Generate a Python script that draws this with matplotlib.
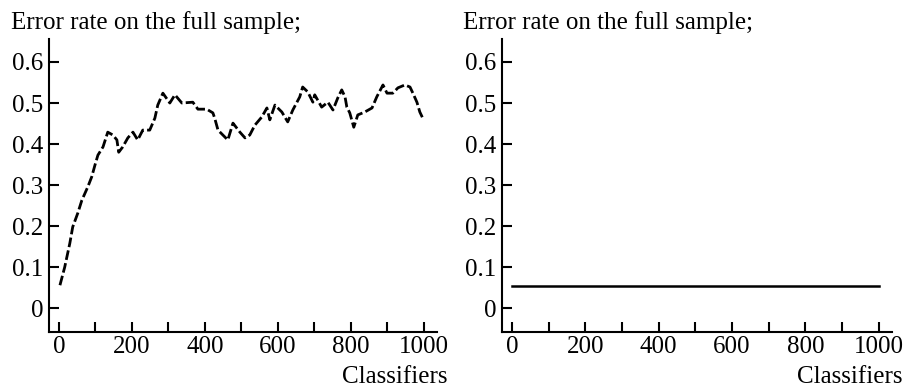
import matplotlib.pyplot as plt

plt.rcParams["font.family"] = ["Liberation Serif", "DejaVu Serif"]

# Left panel: error rate of the ensemble as classifiers are added
classifiers = [3, 16, 30, 38, 52, 63, 79, 90, 99, 107, 121, 134, 148, 159, 164,
               175, 189, 203, 216, 230, 249, 263, 271, 285, 304, 318, 337, 367,
               381, 405, 422, 427, 436, 455, 463, 477, 496, 510, 523, 537, 556,
               570, 578, 592, 611, 627, 641, 660, 668, 682, 696, 701, 720, 737,
               751, 764, 775, 784, 789, 797, 808, 819, 838, 858, 871, 888, 899,
               915, 929, 948, 962, 970, 981, 989, 997]
error_left = [0.056, 0.100, 0.158, 0.198, 0.232, 0.263, 0.295, 0.320, 0.349,
              0.373, 0.393, 0.429, 0.422, 0.410, 0.380, 0.393, 0.415, 0.429,
              0.410, 0.434, 0.434, 0.463, 0.495, 0.524, 0.500, 0.520, 0.500,
              0.502, 0.485, 0.485, 0.476, 0.463, 0.434, 0.417, 0.410, 0.451,
              0.429, 0.415, 0.422, 0.446, 0.466, 0.488, 0.459, 0.495, 0.478,
              0.454, 0.483, 0.515, 0.539, 0.527, 0.502, 0.520, 0.490, 0.502,
              0.483, 0.512, 0.532, 0.515, 0.490, 0.476, 0.441, 0.471, 0.478,
              0.488, 0.515, 0.544, 0.524, 0.524, 0.537, 0.544, 0.539, 0.524,
              0.502, 0.478, 0.463]

# Right panel: constant error rate
classifiers_right = [0, 1000]
error_right = [0.053, 0.053]

title = "Error rate on the full sample;"
xticks = [0, 100, 200, 300, 400, 500, 600, 700, 800, 900, 1000]
xticklabels = ["0", "", "200", "", "400", "", "600", "", "800", "", "1000"]
yticks = [0, 0.1, 0.2, 0.3, 0.4, 0.5, 0.6]
yticklabels = ["0", "0.1", "0.2", "0.3", "0.4", "0.5", "0.6"]

fs = 18

fig = plt.figure(figsize=(9.05, 3.87), dpi=100)
ax1 = fig.add_axes([49 / 905, 1 - 332 / 387, 388 / 905, 293 / 387])
ax2 = fig.add_axes([502 / 905, 1 - 332 / 387, 390 / 905, 293 / 387])

ax1.plot(classifiers, error_left, color="black", lw=2.0, dashes=(3.5, 1.2))
ax2.plot(classifiers_right, error_right, color="black", lw=1.8)

for ax, tx in [(ax1, 11), (ax2, 463)]:
    ax.set_xlim(-27, 1036)
    ax.set_ylim(-0.058, 0.656)
    ax.set_xticks(xticks)
    ax.set_xticklabels(xticklabels)
    ax.set_yticks(yticks)
    ax.set_yticklabels(yticklabels)
    ax.spines["top"].set_visible(False)
    ax.spines["right"].set_visible(False)
    for s in ["left", "bottom"]:
        ax.spines[s].set_linewidth(1.5)
    ax.tick_params(direction="in", length=7, width=1.5, labelsize=fs)
    ax.tick_params(axis="y", pad=4)
    ax.tick_params(axis="x", pad=3)
    ax.text(1.026, -0.174, "Classifiers", ha="right", va="baseline",
            fontsize=fs, transform=ax.transAxes)
    fig.text(tx / 905, 1 - 29 / 387, title, ha="left", va="baseline", fontsize=fs)

plt.savefig("out.png", dpi=100)
